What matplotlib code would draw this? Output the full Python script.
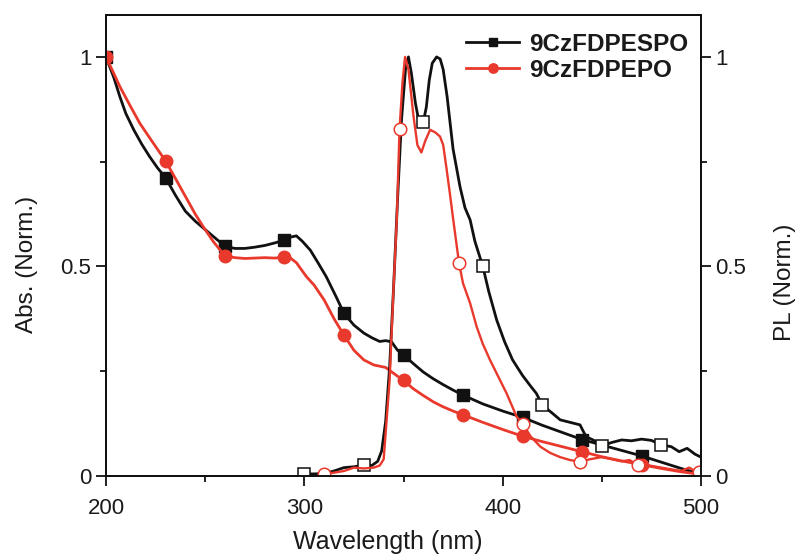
import numpy as np
import matplotlib
matplotlib.use("Agg")
import matplotlib.pyplot as plt

plt.rcParams['font.family'] = ['Liberation Sans', 'DejaVu Sans']

# absorption, 9CzFDPESPO
abs1_wl = [200, 204, 207, 210, 214, 218, 222, 226, 230, 235, 240, 245, 250, 255, 260, 265, 270,
           275, 280, 285, 290, 293, 296, 299, 303, 307, 311, 316, 320, 325, 330, 334, 338, 341,
           344, 347, 350, 355, 360, 365, 370, 375, 380, 390, 400, 410, 420, 430, 440, 450, 460,
           470, 480, 490, 500]
abs1 = [1.0, 0.95, 0.905, 0.865, 0.826, 0.792, 0.762, 0.735, 0.712, 0.67, 0.632, 0.608, 0.588,
        0.568, 0.548, 0.543, 0.543, 0.546, 0.55, 0.556, 0.563, 0.570, 0.573, 0.56, 0.539, 0.508,
        0.476, 0.428, 0.388, 0.36, 0.341, 0.33, 0.321, 0.323, 0.32, 0.30, 0.289, 0.268, 0.248,
        0.232, 0.218, 0.205, 0.193, 0.172, 0.155, 0.140, 0.121, 0.104, 0.087, 0.074, 0.061,
        0.048, 0.033, 0.018, 0.004]
abs1_marks = [200, 230, 260, 290, 320, 350, 380, 410, 440, 470]

# absorption, 9CzFDPEPO
abs2_wl = [200, 204, 207, 212, 217, 223, 230, 235, 241, 245, 249, 254, 260, 265, 270, 275, 280,
           285, 290, 293, 296, 301, 305, 310, 315, 320, 325, 330, 335, 341, 345, 350, 355, 360,
           365, 370, 375, 380, 390, 400, 410, 420, 430, 440, 450, 460, 470, 480, 490, 500]
abs2 = [1.0, 0.96, 0.929, 0.885, 0.842, 0.80, 0.752, 0.71, 0.659, 0.625, 0.595, 0.56, 0.525,
        0.521, 0.519, 0.52, 0.521, 0.52, 0.522, 0.52, 0.509, 0.476, 0.455, 0.42, 0.375, 0.336,
        0.30, 0.277, 0.265, 0.259, 0.245, 0.228, 0.208, 0.192, 0.177, 0.165, 0.155, 0.146,
        0.128, 0.111, 0.095, 0.082, 0.07, 0.058, 0.046, 0.036, 0.027, 0.018, 0.01, 0.004]
abs2_marks = [200, 230, 260, 290, 320, 350, 380, 410, 440, 470]

# PL, 9CzFDPESPO
pl1_wl = [300, 305, 310, 315, 320, 325, 330, 334, 337, 339, 341, 343, 345, 347, 349, 351, 352.5,
          354, 356, 358, 360, 361.5, 363, 364.5, 366.7, 368.5, 370, 372, 375, 378.5, 381, 383.6,
          386, 390, 393, 397, 401, 405, 410, 414, 417, 420, 425, 429, 434, 439, 442, 446, 450,
          455, 460, 465, 470, 475, 480, 485, 489, 493, 497, 500]
pl1 = [0.005, 0.005, 0.006, 0.012, 0.02, 0.022, 0.026, 0.025, 0.035, 0.06, 0.13, 0.26, 0.45,
       0.66, 0.85, 0.97, 1.0, 0.96, 0.89, 0.84, 0.845, 0.88, 0.945, 0.985, 1.0, 0.995, 0.97,
       0.905, 0.78, 0.69, 0.64, 0.611, 0.56, 0.5, 0.44, 0.372, 0.32, 0.277, 0.24, 0.215, 0.197,
       0.169, 0.15, 0.134, 0.128, 0.122, 0.094, 0.085, 0.072, 0.08, 0.086, 0.084, 0.088, 0.085,
       0.074, 0.07, 0.058, 0.066, 0.052, 0.045]
pl1_marks = [300, 330, 360, 390, 420, 450, 480]

# PL, 9CzFDPEPO
pl2_wl = [310, 315, 320, 325, 330, 335, 338, 340, 341.5, 343, 345, 346.6, 348, 349.5, 350.8,
          352.5, 355, 357, 359, 361, 363.4, 366, 368.4, 370, 371.8, 373.5, 375.1, 378, 380,
          383.6, 386.9, 390, 393.6, 398, 402, 407, 410, 414, 419, 424, 429, 434, 439, 444, 450,
          455, 460, 464, 468, 474, 480, 486, 490, 494, 497, 499]
pl2 = [0.005, 0.008, 0.012, 0.02, 0.018, 0.02, 0.025, 0.04, 0.134, 0.229, 0.45, 0.611, 0.827,
       0.94, 1.0, 0.97, 0.86, 0.79, 0.772, 0.80, 0.826, 0.82, 0.81, 0.79, 0.73, 0.67, 0.611,
       0.508, 0.46, 0.412, 0.356, 0.315, 0.277, 0.235, 0.197, 0.142, 0.125, 0.095, 0.07, 0.055,
       0.045, 0.038, 0.034, 0.04, 0.045, 0.04, 0.035, 0.038, 0.026, 0.025, 0.02, 0.015, 0.012,
       0.02, 0.012, 0.01]
pl2_marks = [310, 348, 378, 410, 439, 468, 499]

names = ['9CzFDPESPO', '9CzFDPEPO']
yticks = [0, 0.5, 1]
ytick_labels = ['0', '0.5', '1']
xticks = [200, 300, 400, 500]

black = '#111111'
red = '#e8392c'
txt = '#1a1a1a'


def idx(wl, marks):
    return [wl.index(m) for m in marks]


fig = plt.figure(figsize=(7.99, 5.58), dpi=100)
ax = fig.add_axes([106/799, 1-476/558, 595/799, 461/558])
ax2 = ax.twinx()

lw = 2.0
ms = 8
ax.plot(abs1_wl, abs1, '-s', color=black, lw=lw, ms=ms, markevery=idx(abs1_wl, abs1_marks),
        label=names[0], zorder=3)
ax.plot(abs2_wl, abs2, '-o', color=red, lw=lw, ms=ms+1, markevery=idx(abs2_wl, abs2_marks),
        label=names[1], zorder=3)
ax2.plot(pl1_wl, pl1, '-s', color=black, lw=lw, ms=ms, mfc='white', mew=1.1,
         markevery=idx(pl1_wl, pl1_marks))
ax2.plot(pl2_wl, pl2, '-o', color=red, lw=lw * 0.85, ms=ms+1, mfc='white', mew=1.1,
         markevery=idx(pl2_wl, pl2_marks))

for a in (ax, ax2):
    a.set_xlim(200, 500)
    a.set_ylim(0, 1.1)
    a.set_yticks(yticks)
    a.set_yticklabels(ytick_labels)
    a.set_yticks([0.25, 0.75], minor=True)
    a.tick_params(which='major', direction='out', length=7, width=1.3, labelsize=16,
                  colors=black, labelcolor=txt)
    a.tick_params(which='minor', direction='out', length=4, width=1.3, colors=black)
    for s in a.spines.values():
        s.set_linewidth(1.4)
        s.set_color(black)

ax.set_xticks(xticks)
ax.set_xticks([250, 350, 450], minor=True)
ax.tick_params(axis='x', pad=9)
ax.set_xlabel('Wavelength (nm)', fontsize=18, color=txt)
ax.set_ylabel('Abs. (Norm.)', fontsize=17.5, color=txt)
ax2.set_ylabel('PL (Norm.)', fontsize=17.5, color=txt, rotation=90)
ax.xaxis.set_label_coords(0.474, -0.117)
ax.yaxis.set_label_coords(-0.114, 0.46)
ax2.yaxis.set_label_coords(1.122, 0.42)

leg = ax.legend(loc='upper right', bbox_to_anchor=(1.003, 0.993), frameon=False,
                prop={'weight': 'bold', 'size': 17.5}, handlelength=2.2, handletextpad=0.4,
                labelspacing=0.12, markerscale=0.75, borderaxespad=0.2)
for t in leg.get_texts():
    t.set_color(txt)

fig.savefig('out.png', dpi=100)
